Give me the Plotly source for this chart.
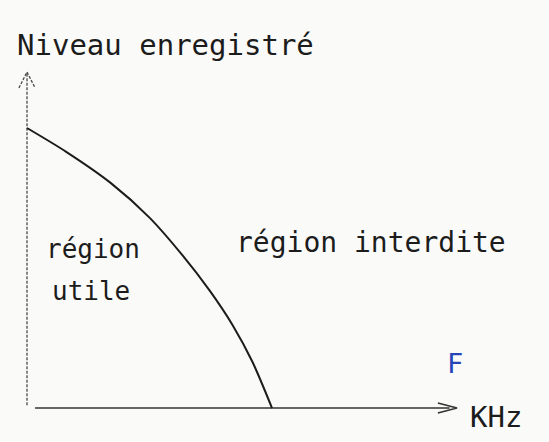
import plotly.graph_objects as go

# Recording-level limit versus frequency (arbitrary units)
freq = [0.0, 1.6, 3.4, 5.0, 6.35, 7.45, 8.4, 9.2, 10.0]
level = [10.0, 9.15, 8.05, 6.8, 5.45, 4.2, 2.95, 1.65, 0.0]

# Extent of the hand-drawn axes
freq_axis_start = 0.33
freq_axis_tip = 17.55
level_axis_start = 0.1
level_axis_tip = 12.0

# Labels
title_text = "Niveau enregistré"
unit_text = "KHz"
useful_label = ["région", "utile"]
forbidden_label = "région interdite"
mark_text = "F"

INK = "#1c1c1c"
AXIS_INK = "#4a4a4a"
FONT = "DejaVu Sans Mono"

fig = go.Figure()

# vertical axis with open arrowhead
head_w, head_l = 0.33, 0.57
fig.add_trace(go.Scatter(
    x=[0, 0, None, -head_w, 0, head_w],
    y=[level_axis_start, level_axis_tip, None,
       level_axis_tip - head_l, level_axis_tip, level_axis_tip - head_l],
    mode="lines", line=dict(color=AXIS_INK, width=1.3, dash="3px,1.5px"),
    hoverinfo="skip", showlegend=False))

# horizontal axis with open arrowhead
hx_l, hx_w = 0.78, 0.18
fig.add_trace(go.Scatter(
    x=[freq_axis_start, freq_axis_tip - 0.3, None,
       freq_axis_tip - hx_l, freq_axis_tip, freq_axis_tip - hx_l],
    y=[0, 0, None, hx_w, 0, -hx_w],
    mode="lines", line=dict(color="#333333", width=1.7),
    hoverinfo="skip", showlegend=False))

# boundary curve
fig.add_trace(go.Scatter(
    x=freq, y=level, mode="lines",
    line=dict(color=INK, width=2, shape="spline", smoothing=0.8),
    hoverinfo="skip", showlegend=False))

ann = [
    dict(x=-0.49, y=12.96, text=title_text, xanchor="left", yanchor="middle",
         font=dict(family=FONT, size=29, color=INK)),
    dict(x=14.06, y=5.92, text=forbidden_label, xanchor="center", yanchor="middle",
         font=dict(family=FONT, size=28, color=INK)),
    dict(x=2.71, y=5.68, text=useful_label[0], xanchor="center", yanchor="middle",
         font=dict(family=FONT, size=26, color=INK)),
    dict(x=2.63, y=4.18, text=useful_label[1], xanchor="center", yanchor="middle",
         font=dict(family=FONT, size=26, color=INK)),
    dict(x=19.16, y=-0.32, text=unit_text, xanchor="center", yanchor="middle",
         font=dict(family=FONT, size=29, color=INK)),
    dict(x=17.47, y=1.6, text=mark_text, xanchor="center", yanchor="middle",
         font=dict(family=FONT, size=27, color="#2544b8")),
]
for a in ann:
    fig.add_annotation(showarrow=False, xref="x", yref="y", **a)

fig.update_layout(
    width=549, height=442, autosize=False,
    margin=dict(l=0, r=0, t=0, b=0),
    paper_bgcolor="#fafaf8", plot_bgcolor="#fafaf8",
    xaxis=dict(range=[-1.102, 21.306], visible=False, fixedrange=True),
    yaxis=dict(range=[-1.214, 14.571], visible=False, fixedrange=True),
    showlegend=False,
)

fig.write_html("out.html", config={"displayModeBar": False})
